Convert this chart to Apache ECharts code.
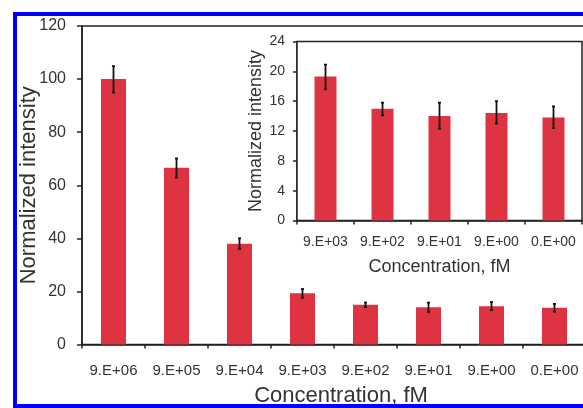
<!DOCTYPE html>
<html>
<head>
<meta charset="utf-8">
<script src="https://cdn.jsdelivr.net/npm/echarts@6/dist/echarts.min.js"></script>
<style>
html,body{margin:0;padding:0;background:#fff;}
#chart{width:583px;height:408px;}
</style>
</head>
<body>
<div id="chart"></div>
<script>
// Main chart data
const categories = ['9.E+06','9.E+05','9.E+04','9.E+03','9.E+02','9.E+01','9.E+00','0.E+00'];
const values     = [100, 66.6, 38, 19.3, 15.0, 14.0, 14.4, 13.8];
const errLow     = [94.9, 62.9, 36.0, 17.6, 14.1, 12.3, 13.0, 12.4];
const errHigh    = [104.9, 70.1, 40.0, 20.9, 15.8, 15.8, 16.0, 15.3];
const yTicksMain = [0, 20, 40, 60, 80, 100, 120];

// Inset data
const insetCategories = ['9.E+03','9.E+02','9.E+01','9.E+00','0.E+00'];
const insetValues     = [19.3, 15.0, 14.0, 14.4, 13.8];
const insetErrLow     = [17.6, 14.1, 12.3, 13.0, 12.4];
const insetErrHigh    = [20.9, 15.8, 15.8, 16.0, 15.3];
const yTicksInset     = [0, 4, 8, 12, 16, 20, 24];

const barColor = '#de3340';
const axisColor = '#222';
const textColor = '#333';
const fontFamily = '"Liberation Sans", Arial, sans-serif';

function errRender(capHalf) {
  return function (params, api) {
    const x = api.value(0);
    const top = api.coord([x, api.value(2)]);
    const bot = api.coord([x, api.value(1)]);
    const st = { stroke: '#111', lineWidth: 1.8 };
    return {
      type: 'group',
      children: [
        { type: 'line', shape: { x1: top[0], y1: top[1], x2: bot[0], y2: bot[1] }, style: st },
        { type: 'line', shape: { x1: top[0] - capHalf, y1: top[1], x2: top[0] + capHalf, y2: top[1] }, style: st },
        { type: 'line', shape: { x1: bot[0] - capHalf, y1: bot[1], x2: bot[0] + capHalf, y2: bot[1] }, style: st }
      ]
    };
  };
}

const mainErrData = categories.map((c, i) => [i, errLow[i], errHigh[i]]);
const insetErrData = insetCategories.map((c, i) => [i, insetErrLow[i], insetErrHigh[i]]);

const chart = echarts.init(document.getElementById('chart'), null, { renderer: 'canvas' });

const axisLine = { show: true, lineStyle: { color: axisColor, width: 1.5 } };

chart.setOption({
  animation: false,
  backgroundColor: '#fff',
  textStyle: { fontFamily: fontFamily },
  grid: [
    { left: 82, top: 26, width: 504, height: 318.5, show: true, borderColor: axisColor, borderWidth: 1.5, backgroundColor: 'transparent', containLabel: false, outerBoundsMode: 'none' },
    { left: 297, top: 41.5, width: 285, height: 179, show: true, borderColor: axisColor, borderWidth: 1.5, backgroundColor: '#fff', containLabel: false, outerBoundsMode: 'none', z: 5 }
  ],
  xAxis: [
    {
      type: 'category', gridIndex: 0, data: categories, boundaryGap: true,
      axisLine: axisLine,
      axisTick: { show: true, inside: false, length: 4, alignWithLabel: false, lineStyle: { color: axisColor, width: 1.5 } },
      axisLabel: { fontSize: 15, color: textColor, margin: 19, fontFamily: fontFamily, interval: 0 },
      splitLine: { show: false },
      name: 'Concentration, fM', nameLocation: 'middle', nameGap: 40, nameMoveOverlap: false,
      nameTextStyle: { fontSize: 22, color: textColor, fontFamily: fontFamily, padding: [0, 0, 0, 14] }
    },
    {
      type: 'category', gridIndex: 1, data: insetCategories, boundaryGap: true,
      axisLine: axisLine,
      axisTick: { show: true, inside: false, length: 4, alignWithLabel: false, lineStyle: { color: axisColor, width: 1.5 } },
      axisLabel: { fontSize: 14, color: textColor, margin: 15, fontFamily: fontFamily, interval: 0 },
      splitLine: { show: false },
      name: 'Concentration, fM', nameLocation: 'middle', nameGap: 38, nameMoveOverlap: false,
      nameTextStyle: { fontSize: 18, color: textColor, fontFamily: fontFamily }
    }
  ],
  yAxis: [
    {
      type: 'value', gridIndex: 0, min: yTicksMain[0], max: yTicksMain[yTicksMain.length - 1], interval: yTicksMain[1] - yTicksMain[0],
      axisLine: axisLine,
      axisTick: { show: true, inside: false, length: 5, lineStyle: { color: axisColor, width: 1.5 } },
      axisLabel: { fontSize: 16, color: textColor, margin: 16, fontFamily: fontFamily },
      splitLine: { show: false },
      name: 'Normalized intensity', nameLocation: 'middle', nameGap: 42, nameMoveOverlap: false,
      nameTextStyle: { fontSize: 22, color: textColor, fontFamily: fontFamily }
    },
    {
      type: 'value', gridIndex: 1, min: yTicksInset[0], max: yTicksInset[yTicksInset.length - 1], interval: yTicksInset[1] - yTicksInset[0],
      axisLine: axisLine,
      axisTick: { show: true, inside: false, length: 4, lineStyle: { color: axisColor, width: 1.5 } },
      axisLabel: { fontSize: 14, color: textColor, margin: 12, fontFamily: fontFamily },
      splitLine: { show: false },
      name: 'Normalized intensity', nameLocation: 'middle', nameGap: 32, nameMoveOverlap: false,
      nameTextStyle: { fontSize: 18, color: textColor, fontFamily: fontFamily }
    }
  ],
  series: [
    { type: 'bar', xAxisIndex: 0, yAxisIndex: 0, data: values, barWidth: 25, itemStyle: { color: barColor } },
    { type: 'custom', xAxisIndex: 0, yAxisIndex: 0, data: mainErrData, renderItem: errRender(1.5), encode: { x: 0, y: [1, 2] }, z: 3 },
    { type: 'bar', xAxisIndex: 1, yAxisIndex: 1, data: insetValues, barWidth: 22, itemStyle: { color: barColor }, z: 6 },
    { type: 'custom', xAxisIndex: 1, yAxisIndex: 1, data: insetErrData, renderItem: errRender(1.5), encode: { x: 0, y: [1, 2] }, z: 7 }
  ],
  graphic: [
    { type: 'rect', z: 100, shape: { x: 15, y: 14, width: 640, height: 392 }, style: { fill: 'none', stroke: '#0000ff', lineWidth: 4 } }
  ]
});
</script>
</body>
</html>
